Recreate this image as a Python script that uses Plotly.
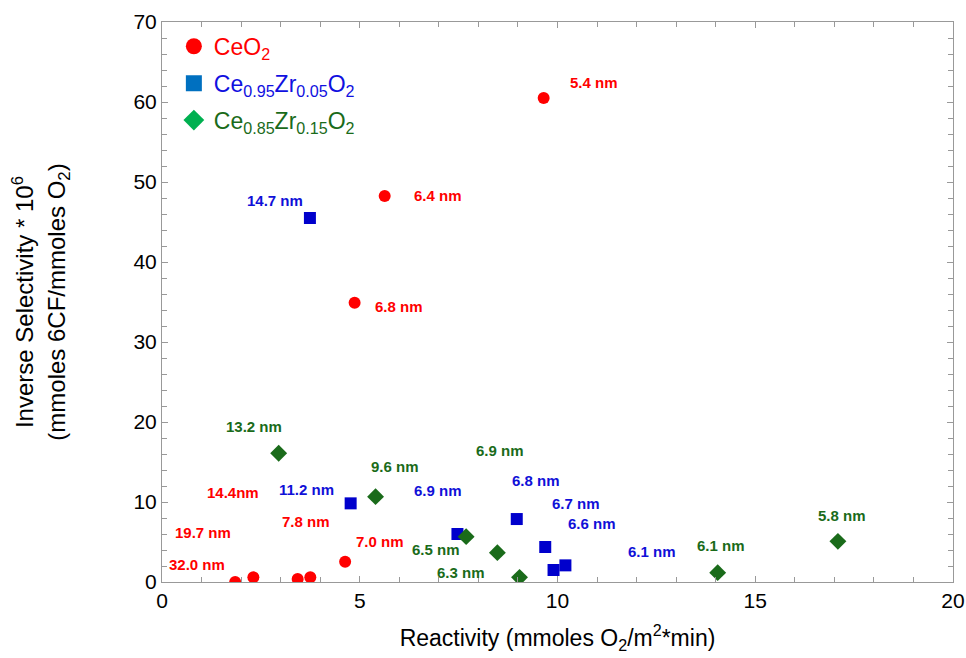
import plotly.graph_objects as go

# ---- data ----
ceo2_x = [1.85, 2.31, 3.43, 3.75, 4.63, 4.87, 5.63, 9.65]
ceo2_y = [0.0, 0.58, 0.38, 0.58, 2.54, 34.9, 48.25, 60.5]
ceo2_labels = ["32.0 nm", "19.7 nm", "14.4nm", "7.8 nm", "7.0 nm", "6.8 nm", "6.4 nm", "5.4 nm"]

cz05_x = [3.74, 4.77, 7.47, 8.97, 9.69, 9.90, 10.2]
cz05_y = [45.5, 9.83, 6.0, 7.87, 4.375, 1.5, 2.08]
cz05_labels = ["14.7 nm", "11.2 nm", "6.9 nm", "6.8 nm", "6.7 nm", "6.1 nm", "6.6 nm"]

cz15_x = [2.95, 5.40, 7.69, 8.48, 9.04, 14.05, 17.09]
cz15_y = [16.1, 10.67, 5.67, 3.67, 0.58, 1.17, 5.08]
cz15_labels = ["13.2 nm", "9.6 nm", "6.9 nm", "6.5 nm", "6.3 nm", "6.1 nm", "5.8 nm"]

# label anchor positions (data units)
ceo2_lab_pos = [(0.88, 2.25), (1.04, 6.25), (1.79, 11.25), (3.64, 7.6), (5.51, 5.125),
                (5.99, 34.4), (6.98, 48.3), (10.93, 62.5)]
cz05_lab_pos = [(2.85, 47.75), (3.65, 11.6), (6.97, 11.5), (9.46, 12.75), (10.47, 9.84),
                (12.40, 3.875), (10.86, 7.375)]
cz15_lab_pos = [(2.32, 19.5), (5.88, 14.5), (8.54, 16.5), (6.94, 4.125), (7.57, 1.16),
                (14.14, 4.625), (17.20, 8.375)]

RED = "#FF0000"
BLUE = "#0000CC"
BLUE_TXT = "#1010D8"
GREEN = "#1A6B1A"
FONT = "Liberation Sans, Arial"

fig = go.Figure()

# data traces (no legend)
fig.add_trace(go.Scatter(x=ceo2_x, y=ceo2_y, mode="markers", showlegend=False,
                         marker=dict(symbol="circle", size=12, color=RED)))
fig.add_trace(go.Scatter(x=cz05_x, y=cz05_y, mode="markers", showlegend=False,
                         marker=dict(symbol="square", size=12, color=BLUE)))
fig.add_trace(go.Scatter(x=cz15_x, y=cz15_y, mode="markers", showlegend=False,
                         marker=dict(symbol="diamond", size=13, color=GREEN)))

# legend entries
fig.add_trace(go.Scatter(x=[None], y=[None], mode="markers", legendgroup="a",
                         name='<span style="color:#FF0000">CeO<sub>2</sub></span>',
                         marker=dict(symbol="circle", size=18, color="#FF0000")))
fig.add_trace(go.Scatter(x=[None], y=[None], mode="markers", legendgroup="b",
                         name='<span style="color:#1010E0">Ce<sub>0.95</sub>Zr<sub>0.05</sub>O<sub>2</sub></span>',
                         marker=dict(symbol="square", size=17, color="#0070C0")))
fig.add_trace(go.Scatter(x=[None], y=[None], mode="markers", legendgroup="c",
                         name='<span style="color:#1A6B1A">Ce<sub>0.85</sub>Zr<sub>0.15</sub>O<sub>2</sub></span>',
                         marker=dict(symbol="diamond", size=16, color="#00B050")))

annotations = []
for labels, pos, col in [(ceo2_labels, ceo2_lab_pos, RED),
                         (cz05_labels, cz05_lab_pos, BLUE_TXT),
                         (cz15_labels, cz15_lab_pos, GREEN)]:
    for t, (lx, ly) in zip(labels, pos):
        annotations.append(dict(x=lx, y=ly, xref="x", yref="y", text="<b>%s</b>" % t,
                                showarrow=False, font=dict(size=15, color=col, family=FONT)))

axis_common = dict(showline=True, linecolor="#999999", linewidth=1, mirror="ticks",
                   ticks="inside", ticklen=6, tickcolor="#999999", showgrid=False,
                   zeroline=False, automargin=False, tickfont=dict(size=21, color="black"))

fig.update_layout(
    width=966, height=658,
    margin=dict(l=162, r=13, t=22, b=76),
    paper_bgcolor="white", plot_bgcolor="white",
    font=dict(family=FONT, color="black"),
    annotations=annotations,
    legend=dict(x=0.015, y=0.995, xanchor="left", yanchor="top", bgcolor="rgba(0,0,0,0)",
                font=dict(size=23), tracegroupgap=4),
    xaxis=dict(range=[0, 20], dtick=5,
               minor=dict(dtick=1, ticks="inside", ticklen=5, tickcolor="#999999"),
               title=dict(text="Reactivity (mmoles O<sub>2</sub>/m<sup>2</sup>*min)",
                          font=dict(size=23), standoff=18),
               **axis_common),
    yaxis=dict(range=[0, 70], dtick=10,
               minor=dict(dtick=2, ticks="inside", ticklen=5, tickcolor="#999999"),
               title=dict(text="Inverse Selectivity * 10<sup>6</sup><br>(mmoles 6CF/mmoles O<sub>2</sub>)",
                          font=dict(size=24), standoff=61),
               **axis_common),
)

fig.write_html("out.html")
